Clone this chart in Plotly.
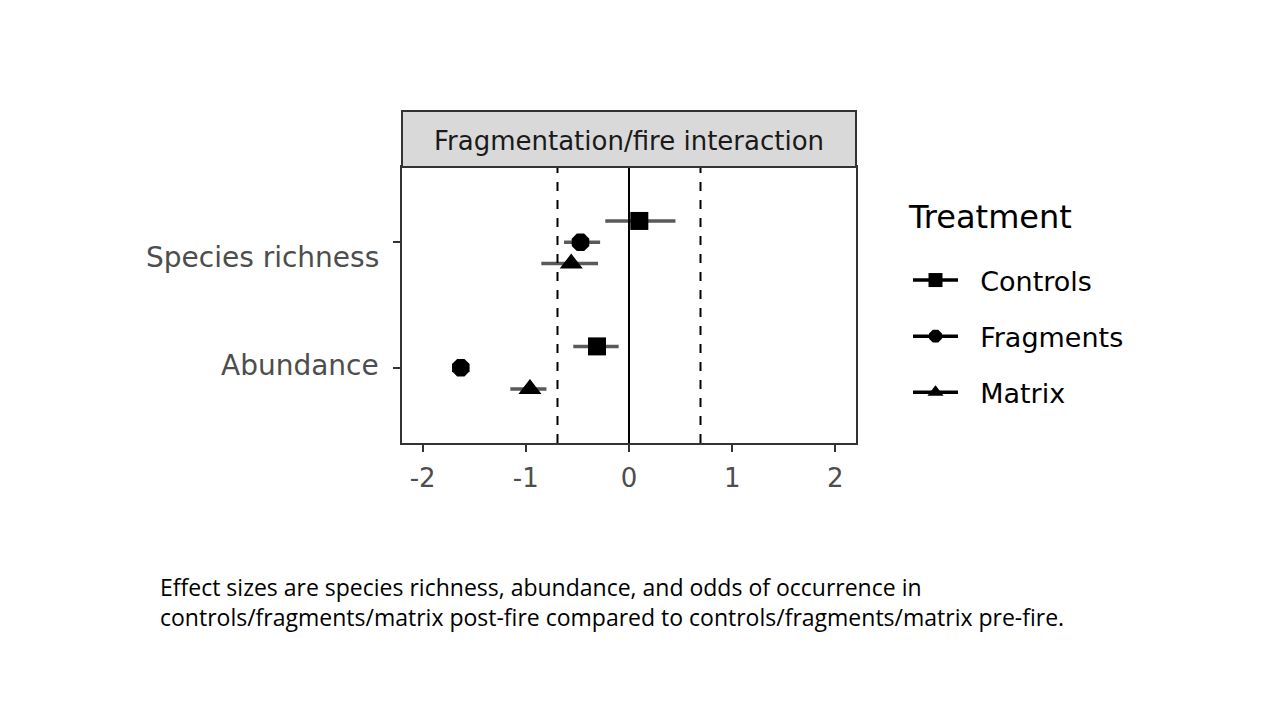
import plotly.graph_objects as go

categories = ["Abundance", "Species richness"]
treatments = ["Controls", "Fragments", "Matrix"]
estimate = {
    "Controls": [-0.31, 0.10],
    "Fragments": [-1.63, -0.47],
    "Matrix": [-0.96, -0.56],
}
lower = {
    "Controls": [-0.54, -0.23],
    "Fragments": [-1.68, -0.63],
    "Matrix": [-1.15, -0.85],
}
upper = {
    "Controls": [-0.10, 0.45],
    "Fragments": [-1.58, -0.28],
    "Matrix": [-0.80, -0.30],
}
ref_lines = [-0.693, 0.693]
x_ticks = [-2, -1, 0, 1, 2]

symbols = {"Controls": "square", "Fragments": "octagon", "Matrix": "triangle-up"}
msize = {"Controls": 18, "Fragments": 19, "Matrix": 20}
dodge = {"Controls": 0.17, "Fragments": 0.0, "Matrix": -0.17}
label_shift = {"Abundance": 2, "Species richness": -15}

TXT = "'DejaVu Sans', Verdana, sans-serif"
fig = go.Figure()

for t in treatments:
    ys = [i + 1 + dodge[t] for i in range(len(categories))]
    fig.add_trace(go.Scatter(
        x=estimate[t], y=ys, mode="markers", showlegend=False,
        marker=dict(symbol=symbols[t], size=msize[t], color="black"),
        error_x=dict(type="data", symmetric=False,
                     array=[u - e for u, e in zip(upper[t], estimate[t])],
                     arrayminus=[e - l for e, l in zip(estimate[t], lower[t])],
                     color="#5a5a5a", thickness=3.5, width=0),
        hoverinfo="skip",
    ))

NB = "\u00a0\u00a0"
for t in treatments:
    fig.add_trace(go.Scatter(
        x=[None], y=[None], mode="lines+markers", name=NB + t,
        line=dict(color="black", width=3.5),
        marker=dict(symbol=symbols[t], size=14, color="black"),
        legendgroup=t,
    ))

# reference lines
fig.add_vline(x=0, line=dict(color="black", width=2))
for r in ref_lines:
    fig.add_vline(x=r, line=dict(color="black", width=2, dash="dash"))

x0, x1 = 402 / 1280, 856 / 1280
yb, yt = 1 - 443 / 720, 1 - 167 / 720

fig.update_layout(
    width=1280, height=720,
    margin=dict(l=0, r=0, t=0, b=0),
    paper_bgcolor="white", plot_bgcolor="white",
    xaxis=dict(domain=[x0, x1], range=[-2.2, 2.2], tickvals=x_ticks,
               ticktext=[str(v) for v in x_ticks],
               showgrid=False, zeroline=False,
               showline=True, mirror=True, linecolor="#333333", linewidth=2,
               ticks="outside", ticklen=7, tickwidth=2, tickcolor="#333333",
               ticklabelstandoff=4,
               tickfont=dict(family=TXT, size=26, color="#4d4d4d")),
    yaxis=dict(domain=[yb, yt], range=[0.4, 2.6], tickvals=[1, 2],
               showticklabels=False,
               showgrid=False, zeroline=False,
               showline=True, mirror=True, linecolor="#333333", linewidth=2,
               ticks="outside", ticklen=7, tickwidth=2, tickcolor="#333333"),
    legend=dict(x=908 / 1280, y=1 - 256 / 720, xanchor="left", yanchor="top",
                font=dict(family=TXT, size=27, color="black"),
                tracegroupgap=18, itemwidth=45, bgcolor="rgba(0,0,0,0)"),
    showlegend=True,
)

# category labels (y axis)
for i, c in enumerate(categories):
    fig.add_annotation(text=c, xref="paper", yref="y", x=381 / 1280, y=i + 1,
                       yshift=label_shift[c], showarrow=False,
                       xanchor="right", yanchor="middle",
                       font=dict(family=TXT, size=28, color="#4d4d4d"))

fig.add_annotation(text="Treatment", xref="paper", yref="paper",
                   x=906 / 1280, y=1 - 217 / 720, showarrow=False,
                   xanchor="left", yanchor="middle",
                   font=dict(family=TXT, size=32, color="black"))

# facet strip
fig.add_shape(type="rect", xref="paper", yref="paper",
              x0=x0, x1=x1, y0=yt, y1=1 - 111 / 720,
              fillcolor="#d9d9d9", line=dict(color="#333333", width=2))
fig.add_annotation(text="Fragmentation/fire interaction", xref="paper", yref="paper",
                   x=(x0 + x1) / 2, y=1 - 141 / 720, showarrow=False,
                   xanchor="center", yanchor="middle",
                   font=dict(family=TXT, size=26, color="#1a1a1a"))

caption = ("Effect sizes are species richness, abundance, and odds of occurrence in<br>"
           "controls/fragments/matrix post-fire compared to controls/fragments/matrix pre-fire.")
fig.add_annotation(text=caption, xref="paper", yref="paper",
                   x=158 / 1280, y=1 - 569 / 720, showarrow=False,
                   xanchor="left", yanchor="top", align="left",
                   font=dict(family="'Open Sans', sans-serif", size=23, color="black"))

fig.write_html("out.html", config={"displayModeBar": False},
               post_script="document.body.style.margin='0px';document.body.style.padding='0px';")
